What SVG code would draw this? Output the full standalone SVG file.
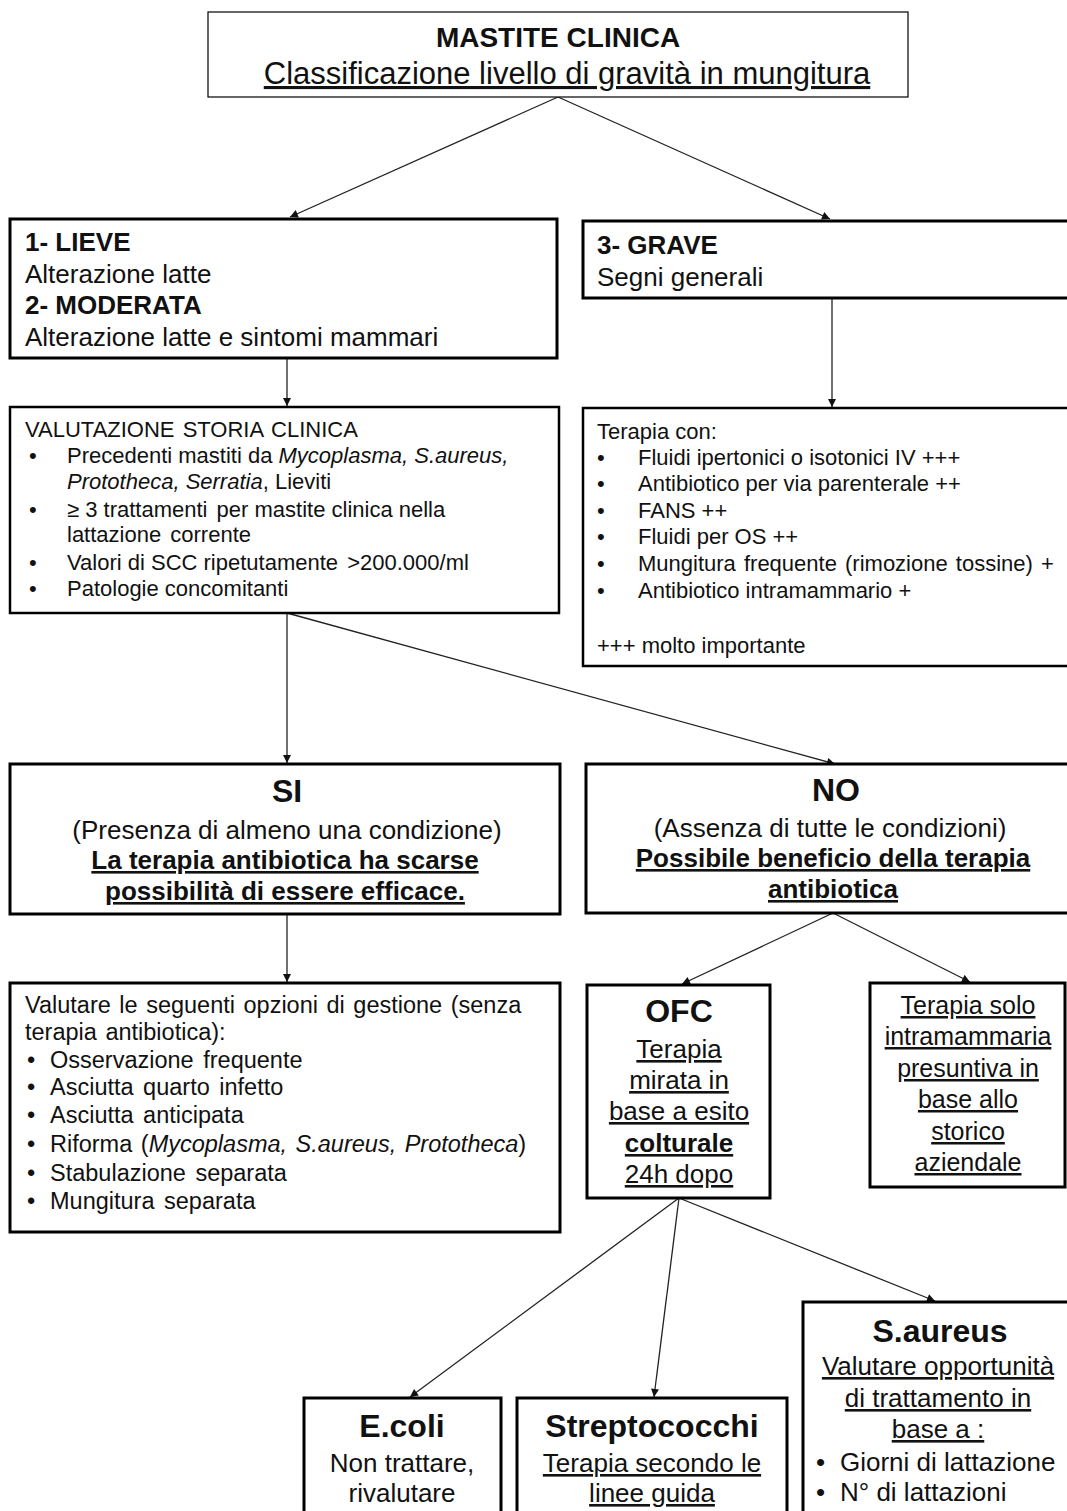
<svg xmlns="http://www.w3.org/2000/svg" width="1067" height="1511" viewBox="0 0 1067 1511">
<style>
.box{fill:#fff;stroke:#000;stroke-width:3}
.thin{stroke-width:1.2}
text{font-family:"Liberation Sans",Arial,sans-serif;fill:#111}
.b{font-weight:bold}
.u{text-decoration:underline}
.c{text-anchor:middle}
.s22{font-size:22px}
.s23{font-size:23.5px}
.s25{font-size:25px}
.s26{font-size:26px}
.s32{font-size:32px;font-weight:bold}
.conn line{stroke:#222;stroke-width:1.3;marker-end:url(#ah)}
</style>
<defs>
<marker id="ah" viewBox="0 0 10 10" refX="10" refY="5" markerWidth="10" markerHeight="8" markerUnits="userSpaceOnUse" orient="auto">
<path d="M0,0 L10,5 L0,10 z" fill="#111"/>
</marker>
</defs>
<rect width="1067" height="1511" fill="#fff"/>

<g class="conn">
<line x1="558" y1="97" x2="290" y2="217"/>
<line x1="558" y1="97" x2="830" y2="219"/>
<line x1="287" y1="358" x2="287" y2="406"/>
<line x1="832" y1="298" x2="832" y2="407"/>
<line x1="287" y1="613" x2="287" y2="763"/>
<line x1="287" y1="613" x2="835" y2="764"/>
<line x1="287" y1="914" x2="287" y2="982"/>
<line x1="833" y1="913" x2="682" y2="984"/>
<line x1="833" y1="913" x2="970" y2="982"/>
<line x1="679" y1="1198" x2="410" y2="1397"/>
<line x1="679" y1="1198" x2="654" y2="1397"/>
<line x1="679" y1="1198" x2="935" y2="1301"/>
</g>

<g id="n-top">
<rect class="box thin" x="208" y="12" width="700" height="85"/>
<text class="c b" x="558" y="47" font-size="28">MASTITE CLINICA</text>
<text class="c u" x="567" y="84" font-size="31">Classificazione livello di gravità in mungitura</text>
</g>

<g id="n-lieve">
<rect class="box" x="10" y="219" width="547" height="139"/>
<text class="s26 b" x="25" y="251">1- LIEVE</text>
<text class="s26" x="25" y="283">Alterazione latte</text>
<text class="s26 b" x="25" y="314">2- MODERATA</text>
<text class="s26" x="25" y="346">Alterazione latte e sintomi mammari</text>
</g>

<g id="n-grave">
<rect class="box" x="583" y="221" width="495" height="77"/>
<text class="s26 b" x="597" y="254">3- GRAVE</text>
<text class="s26" x="597" y="286">Segni generali</text>
</g>

<g id="n-storia">
<rect class="box" x="10" y="407" width="549" height="206" style="stroke-width:2.5"/>
<text class="s22" x="25" y="437" word-spacing="2">VALUTAZIONE STORIA CLINICA</text>
<text class="s22" x="29" y="463">•</text>
<text class="s22" x="67" y="463">Precedenti mastiti da <tspan font-style="italic">Mycoplasma, S.aureus,</tspan></text>
<text class="s22" x="67" y="489"><tspan font-style="italic">Prototheca, Serratia</tspan>, Lieviti</text>
<text class="s22" x="29" y="517">•</text>
<text class="s22" x="67" y="517">≥ 3 trattamenti <tspan dx="3">per mastite clinica nella</tspan></text>
<text class="s22" x="67" y="542" word-spacing="3">lattazione corrente</text>
<text class="s22" x="29" y="570">•</text>
<text class="s22" x="67" y="570">Valori di SCC ripetutamente <tspan dx="3">&gt;200.000/ml</tspan></text>
<text class="s22" x="29" y="596">•</text>
<text class="s22" x="67" y="596">Patologie concomitanti</text>
</g>

<g id="n-terapia">
<rect class="box" x="583" y="408" width="495" height="258" style="stroke-width:2.5"/>
<text class="s22" x="597" y="439">Terapia con:</text>
<text class="s22" x="597" y="465">•</text>
<text class="s22" x="638" y="465">Fluidi ipertonici o isotonici IV +++</text>
<text class="s22" x="597" y="491">•</text>
<text class="s22" x="638" y="491">Antibiotico per via parenterale ++</text>
<text class="s22" x="597" y="518">•</text>
<text class="s22" x="638" y="518">FANS ++</text>
<text class="s22" x="597" y="544">•</text>
<text class="s22" x="638" y="544">Fluidi per OS ++</text>
<text class="s22" x="597" y="571">•</text>
<text class="s22" x="638" y="571" word-spacing="2">Mungitura frequente (rimozione tossine) +</text>
<text class="s22" x="597" y="598">•</text>
<text class="s22" x="638" y="598">Antibiotico intramammario +</text>
<text class="s22" x="597" y="653">+++ molto importante</text>
</g>

<g id="n-si">
<rect class="box" x="10" y="764" width="550" height="150"/>
<text class="c s32" x="287" y="802">SI</text>
<text class="c s26" x="287" y="839">(Presenza di almeno una condizione)</text>
<text class="c s26 b u" x="285" y="869">La terapia antibiotica ha scarse</text>
<text class="c s26 b u" x="285" y="900">possibilità di essere efficace.</text>
</g>

<g id="n-no">
<rect class="box" x="586" y="764" width="495" height="149"/>
<text class="c s32" x="836" y="801">NO</text>
<text class="c s26" x="830" y="837">(Assenza di tutte le condizioni)</text>
<text class="c s26 b u" x="833" y="867">Possibile beneficio della terapia</text>
<text class="c s26 b u" x="833" y="898">antibiotica</text>
</g>

<g id="n-gestione">
<rect class="box" x="10" y="983" width="550" height="249"/>
<text class="s23" x="25" y="1013" word-spacing="2">Valutare le seguenti opzioni di gestione (senza</text>
<text class="s23" x="25" y="1040" word-spacing="2">terapia antibiotica):</text>
<text class="s23" x="27" y="1068">•</text>
<text class="s23" x="50" y="1068" word-spacing="3">Osservazione frequente</text>
<text class="s23" x="27" y="1095">•</text>
<text class="s23" x="50" y="1095" word-spacing="3">Asciutta quarto infetto</text>
<text class="s23" x="27" y="1123">•</text>
<text class="s23" x="50" y="1123" word-spacing="3">Asciutta anticipata</text>
<text class="s23" x="27" y="1152">•</text>
<text class="s23" x="50" y="1152" word-spacing="2">Riforma (<tspan font-style="italic">Mycoplasma, S.aureus, Prototheca</tspan>)</text>
<text class="s23" x="27" y="1181">•</text>
<text class="s23" x="50" y="1181" word-spacing="3">Stabulazione separata</text>
<text class="s23" x="27" y="1209">•</text>
<text class="s23" x="50" y="1209" word-spacing="3">Mungitura separata</text>
</g>

<g id="n-ofc">
<rect class="box" x="587" y="985" width="183" height="213"/>
<text class="c s32" x="679" y="1022">OFC</text>
<text class="c s26 u" x="679" y="1058">Terapia</text>
<text class="c s26 u" x="679" y="1089">mirata in</text>
<text class="c s26 u" x="679" y="1120">base a esito</text>
<text class="c s26 u b" x="679" y="1152">colturale</text>
<text class="c s26 u" x="679" y="1183">24h dopo</text>
</g>

<g id="n-solo">
<rect class="box" x="870" y="983" width="195" height="204"/>
<text class="c s25 u" x="968" y="1014">Terapia solo</text>
<text class="c s25 u" x="968" y="1045">intramammaria</text>
<text class="c s25 u" x="968" y="1077">presuntiva in</text>
<text class="c s25 u" x="968" y="1108">base allo</text>
<text class="c s25 u" x="968" y="1140">storico</text>
<text class="c s25 u" x="968" y="1171">aziendale</text>
</g>

<g id="n-ecoli">
<rect class="box" x="304" y="1398" width="197" height="130"/>
<text class="c s32" x="402" y="1437">E.coli</text>
<text class="c s26" x="402" y="1472">Non trattare,</text>
<text class="c s26" x="402" y="1502">rivalutare</text>
</g>

<g id="n-strep">
<rect class="box" x="517" y="1398" width="270" height="130"/>
<text class="c s32" x="652" y="1437">Streptococchi</text>
<text class="c s26 u" x="652" y="1472">Terapia secondo le</text>
<text class="c s26 u" x="652" y="1502">linee guida</text>
</g>

<g id="n-saureus">
<rect class="box" x="803" y="1302" width="280" height="230"/>
<text class="c s32" x="940" y="1342">S.aureus</text>
<text class="c s26 u" x="938" y="1375">Valutare opportunità</text>
<text class="c s26 u" x="938" y="1407">di trattamento in</text>
<text class="c s26 u" x="938" y="1438">base a :</text>
<text class="s26" x="816" y="1471">•</text>
<text class="s26" x="840" y="1471">Giorni di lattazione</text>
<text class="s26" x="816" y="1501">•</text>
<text class="s26" x="840" y="1501">N° di lattazioni</text>
</g>
</svg>
